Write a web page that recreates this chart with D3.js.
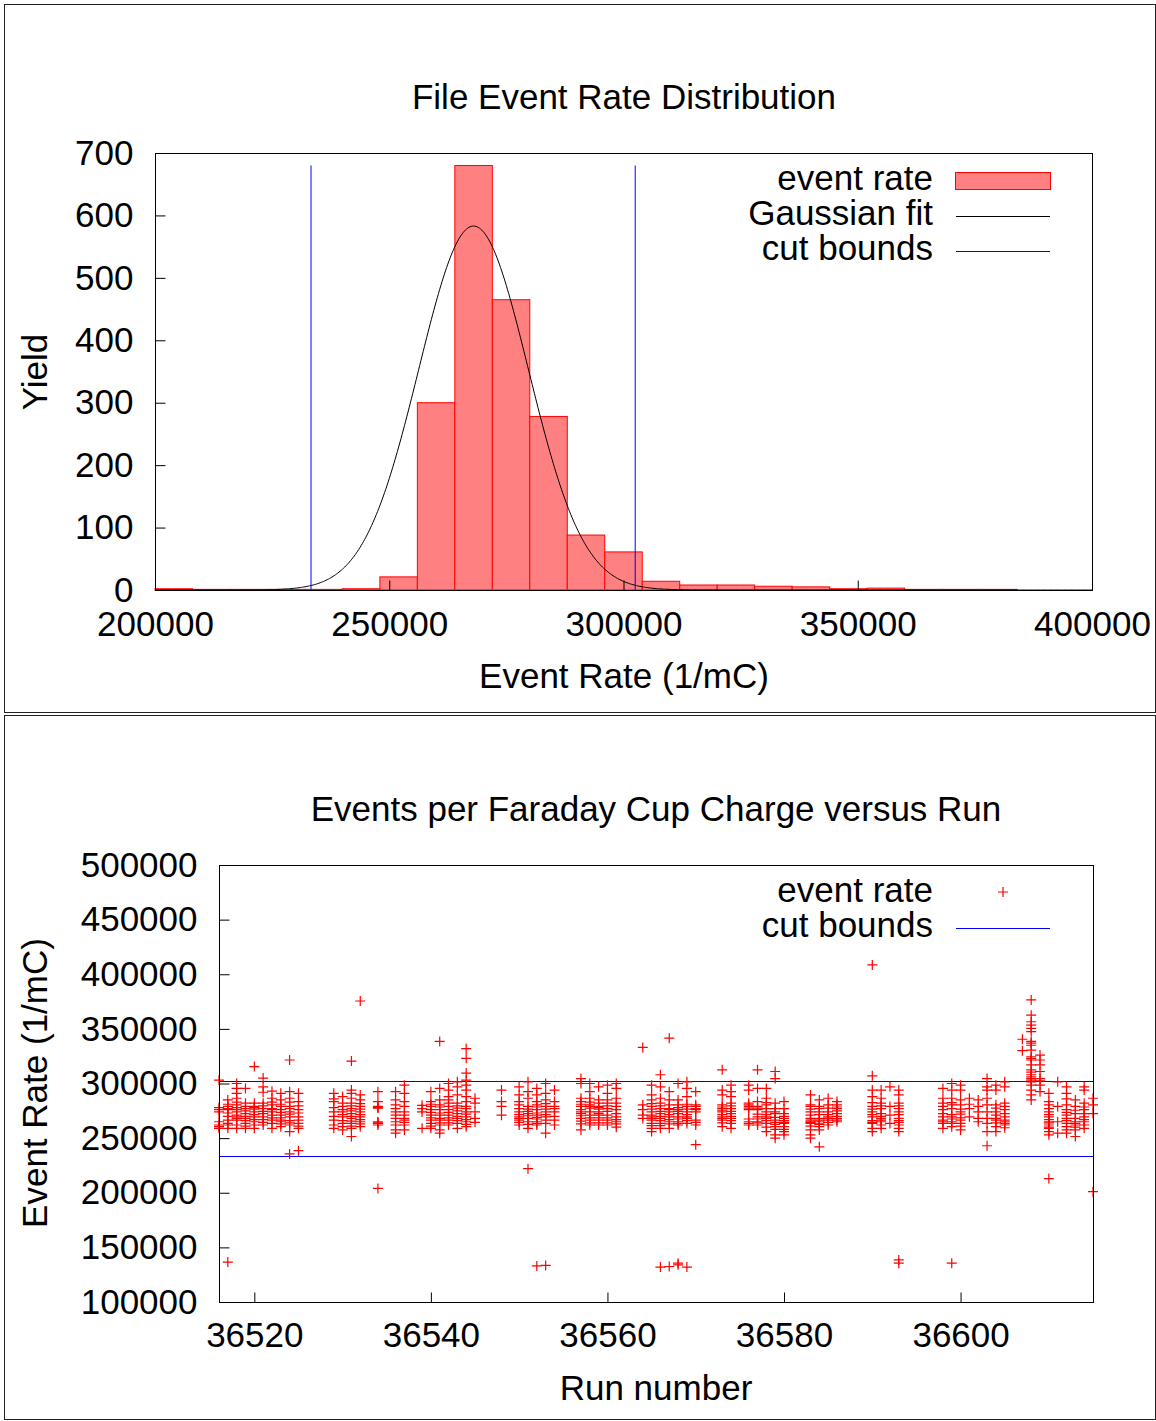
<!DOCTYPE html>
<html>
<head>
<meta charset="utf-8">
<script src="https://cdn.jsdelivr.net/npm/d3@7"></script>
<style>
  body { margin: 0; background: #fff; }
  svg text { font-family: "Liberation Sans", Arial, Helvetica, sans-serif; font-size: 35px; fill: #000; }
</style>
</head>
<body>
<svg id="chart" width="1156" height="1421"></svg>
<script>
// ---- Histogram of per-file event rates (1/mC), 8000-wide bins ----
const binStarts = [200000, 208000, 216000, 224000, 232000, 240000, 248000, 256000, 264000, 272000,
                   280000, 288000, 296000, 304000, 312000, 320000, 328000, 336000, 344000, 352000,
                   360000, 368000, 376000];
const binWidth = 8000;
const binCounts = [2, 1, 1, 1, 1, 2, 21, 300, 680, 465,
                   278, 88, 61, 14, 8, 8, 6, 5, 2, 3,
                   1, 1, 1];

// Gaussian fit parameters
const fitAmplitude = 583;
const fitMean = 268000;
const fitSigma = 11700;

// Accepted event-rate window
const cutBounds = [233300, 302500];

const histXTicks = [200000, 250000, 300000, 350000, 400000];
const histYTicks = [0, 100, 200, 300, 400, 500, 600, 700];

// ---- Event rate of each file, grouped by run ----
const runNumbers = [
  36516, 36517, 36518, 36519, 36520, 36521, 36522, 36523, 36524, 36525,
  36529, 36530, 36531, 36532, 36534, 36536, 36537, 36539, 36540, 36541,
  36542, 36543, 36544, 36545, 36548, 36550, 36551, 36552, 36553, 36554,
  36557, 36558, 36559, 36560, 36561, 36564, 36565, 36566, 36567, 36568,
  36569, 36570, 36573, 36574, 36576, 36577, 36578, 36579, 36580, 36583,
  36584, 36585, 36586, 36590, 36591, 36592, 36593, 36598, 36599, 36600,
  36601, 36602, 36603, 36604, 36605, 36607, 36608, 36609, 36610, 36611,
  36612, 36613, 36614, 36615
];
const runRates = [
  [303000, 278000, 276000, 274000, 265000, 262000, 259000, 260500],
  [285000, 281000, 279000, 277000, 276000, 273000, 270000, 266500, 263500, 262000, 259000, 136500],
  [300000, 295500, 291000, 286500, 283000, 280500, 278000, 276000, 274000, 271000, 269500, 268000, 266500, 262000, 259000],
  [295500, 282000, 279000, 277000, 275000, 272500, 270000, 268000, 266000, 263500, 261000, 259000],
  [315500, 282000, 279000, 278000, 276500, 274000, 271500, 269500, 267000, 265000, 262000, 259000],
  [305000, 297000, 292000, 282000, 279500, 277000, 274500, 272500, 269500, 267000, 264500, 262000],
  [293000, 286500, 283000, 280500, 277000, 276000, 274000, 271000, 268500, 266500, 263500, 259000],
  [291000, 285000, 281000, 279000, 276000, 273500, 271000, 268500, 266500, 265000, 263000, 260500],
  [321500, 292500, 286500, 283000, 279000, 277000, 274000, 272000, 269500, 266000, 264000, 262000, 256000, 235500],
  [291000, 283500, 279500, 276000, 273000, 269500, 266500, 263500, 261000, 259000, 238500],
  [291000, 286000, 283500, 278000, 274000, 270000, 266500, 262000, 259000],
  [288000, 282000, 279000, 276000, 274000, 271500, 269500, 266000, 263500, 260500, 257500],
  [320500, 294000, 291000, 286500, 282000, 279500, 277000, 275000, 272500, 270000, 268000, 265500, 263500, 261000, 259000, 251500],
  [375500, 289500, 285000, 281500, 279000, 276500, 274000, 271500, 269500, 267000, 265000, 263000, 260500],
  [292500, 283500, 279000, 278000, 277500, 265000, 264000, 263500, 262000, 204000],
  [292500, 285000, 280500, 277000, 274000, 271000, 268000, 265000, 262000, 257500, 254500],
  [298500, 291000, 283500, 279000, 274000, 271000, 268000, 266500, 264500, 262000, 257500],
  [280000, 277000, 274000, 259000],
  [292500, 283500, 281000, 279000, 276000, 273500, 271000, 268500, 266500, 263500, 261000, 259000],
  [338500, 295500, 285000, 280500, 278500, 276000, 273000, 271000, 268000, 266500, 264000, 262000, 257500, 254500],
  [300000, 294000, 288000, 285000, 282000, 279000, 276000, 273500, 271000, 268500, 266500, 264000, 262000],
  [301500, 297000, 289500, 282000, 279500, 277500, 275000, 272500, 270000, 268000, 266000, 263500, 259000],
  [332000, 323000, 309500, 303000, 298500, 294000, 288000, 283500, 279000, 277000, 274000, 272000, 269500, 267000, 265000, 262500, 260500],
  [286500, 282000, 274000, 268000, 264500],
  [294000, 283500, 279000, 271000],
  [297000, 289500, 283500, 280500, 277000, 274000, 271500, 269500, 268000, 266500, 264500, 262000],
  [301500, 292500, 286500, 279000, 276500, 274500, 272500, 270500, 268000, 265000, 262500, 259000, 222000],
  [295500, 289500, 283500, 280500, 278500, 276000, 273000, 271000, 269000, 267500, 265000, 263500, 262000, 133000],
  [300000, 291000, 285000, 281500, 279000, 276500, 274000, 271500, 269500, 266500, 263500, 254500, 133500],
  [294000, 283500, 279000, 277000, 274000, 270000, 266500, 262000],
  [304500, 300000, 286500, 283500, 281000, 279000, 276000, 274000, 272500, 270500, 268000, 265500, 263000, 257500],
  [300000, 292500, 286500, 283000, 280500, 279000, 277500, 274000, 271000, 268500, 266500, 264000, 262000],
  [297000, 285000, 282000, 279000, 278000, 276500, 274000, 272500, 271000, 268500, 266500, 264000, 262000],
  [298500, 291000, 285000, 282000, 279500, 277000, 274500, 271000, 268500, 266500, 264000, 262000],
  [300000, 295500, 286500, 282000, 279000, 276000, 272500, 269500, 267000, 265000, 263000, 260000],
  [333000, 280500, 276000, 271000, 268000],
  [298500, 289500, 285000, 281500, 279000, 276500, 274000, 271000, 269500, 268000, 266500, 263500, 261500, 259000, 256000],
  [308000, 297000, 286500, 282000, 279500, 277000, 274500, 272500, 270000, 268000, 266000, 263500, 261500, 259000, 132000],
  [341500, 292500, 285000, 280500, 277000, 276000, 274000, 271500, 269500, 267000, 265000, 263000, 259000, 132500],
  [300000, 285000, 280500, 278000, 276000, 274500, 272500, 269500, 267500, 265000, 263500, 262000, 135500, 134000],
  [301500, 295500, 288000, 281000, 279000, 276500, 274000, 271500, 269500, 268000, 266000, 263500, 132000],
  [292500, 280500, 279000, 277000, 276000, 274000, 266500, 264500, 262000, 244000],
  [312500, 294000, 289500, 280500, 278500, 277000, 275500, 274000, 271500, 269500, 268000, 266500, 264000, 260500],
  [298500, 292500, 288000, 282000, 279500, 277000, 274500, 272500, 270000, 268000, 266000, 263500, 259000],
  [298500, 294000, 282000, 280500, 279000, 277500, 276000, 267500, 265000, 263500, 262000],
  [312500, 295500, 283500, 279000, 277500, 276000, 272000, 269500, 267500, 265000, 264000, 262000],
  [295500, 286500, 282500, 280500, 277000, 274000, 271500, 269500, 268000, 266000, 263500, 260000, 256000],
  [311000, 304500, 282000, 277000, 274000, 272500, 269000, 266500, 264500, 262500, 260500, 258000, 253000, 250000],
  [283500, 277000, 272500, 270000, 268000, 266000, 264500, 263500, 260500, 258000, 256000, 253000],
  [289500, 280500, 279000, 276500, 274000, 271000, 268000, 266500, 265000, 264500, 263500, 261000, 257500, 253000, 250000],
  [285000, 279000, 277000, 274000, 271500, 268000, 266500, 265000, 263000, 262500, 260500, 257500, 242000],
  [286500, 280500, 277500, 274000, 271500, 269500, 268000, 266500, 264500, 262000],
  [283500, 280500, 278500, 277000, 275000, 272500, 270000, 268000, 266500, 265000],
  [408500, 307000, 294000, 288000, 282500, 279000, 276500, 274000, 271500, 269500, 266000, 264500, 263500, 259000, 256000],
  [294000, 286500, 282000, 279500, 277000, 272500, 270000, 268000, 266500, 265000, 262000, 259000],
  [297000, 279000, 271000, 263500],
  [294000, 289500, 282000, 279500, 277000, 274000, 271500, 268000, 266000, 264500, 262000, 259000, 256000, 138500, 135500],
  [295500, 286500, 282000, 279000, 276000, 272500, 269500, 266500, 265000, 263500, 259000],
  [300000, 294000, 286500, 282500, 280500, 277000, 271500, 269500, 267500, 265000, 263500, 260500, 135500],
  [298500, 294000, 285000, 280500, 276500, 274000, 272000, 268500, 266500, 263500, 261000, 257500],
  [286500, 281000, 277000, 269500],
  [285000, 279000, 274000, 268000, 265000],
  [304500, 297000, 294000, 286500, 280500, 274000, 268000, 263500, 256000, 243000],
  [298500, 294000, 280500, 277500, 274000, 271000, 268000, 266500, 264000, 260500, 256000],
  [301500, 297000, 282000, 279000, 276000, 272500, 269500, 266500, 265000, 263500, 262000, 259500],
  [340500, 330000],
  [376500, 362500, 356500, 353500, 350500, 347500, 338500, 337000, 335000, 330500, 324500, 323000, 321500,
   317000, 312500, 310500, 308000, 306000, 304500, 303000, 301500, 298500, 294000, 289500, 285000],
  [326000, 321500, 317000, 311000, 304500, 302500, 298500, 292500],
  [291000, 283500, 280500, 277000, 274000, 271500, 269500, 267000, 265000, 264000, 262000, 260000, 259000, 256000, 253000, 213000],
  [301500, 279000, 265000, 254500],
  [297000, 291000, 286000, 280500, 276000, 273500, 271000, 268000, 266000, 263500, 260500, 257500, 254500],
  [285000, 279000, 275500, 272500, 268000, 265000, 263500, 262000, 260000, 257500, 251500],
  [297000, 294000, 282000, 278500, 276000, 272500, 269500, 267000, 265000, 262000, 259000],
  [286500, 280500, 272500, 201000]
];

const runXTicks = [36520, 36540, 36560, 36580, 36600];
const rateYTicks = [100000, 150000, 200000, 250000, 300000, 350000, 400000, 450000, 500000];

const svg = d3.select("#chart");

// Panel outlines
svg.append("rect").attr("x", 4.5).attr("y", 4.5).attr("width", 1151).attr("height", 708)
  .attr("fill", "none").attr("stroke", "#222").attr("stroke-width", 1);
svg.append("rect").attr("x", 4.5).attr("y", 715.5).attr("width", 1151).attr("height", 704)
  .attr("fill", "none").attr("stroke", "#222").attr("stroke-width", 1);

function styleAxis(g) {
  g.select(".domain").remove();
  g.selectAll(".tick line").attr("stroke", "#000").attr("stroke-width", 1);
  g.selectAll(".tick text").attr("fill", "#000");
  g.attr("font-size", null).attr("font-family", null);
}

// ================= Top panel: histogram =================
const hx = d3.scaleLinear().domain([200000, 400000]).range([155, 1092]);
const hy = d3.scaleLinear().domain([0, 700]).range([590, 153]);

const histPanel = svg.append("g");

histPanel.append("text").attr("x", 624).attr("y", 109).attr("text-anchor", "middle")
  .text("File Event Rate Distribution");

histPanel.append("g").selectAll("rect")
  .data(binStarts.map((b, i) => ({ b, c: binCounts[i] })))
  .join("rect")
  .attr("x", d => hx(d.b))
  .attr("y", d => hy(d.c))
  .attr("width", d => hx(d.b + binWidth) - hx(d.b))
  .attr("height", d => hy(0) - hy(d.c))
  .attr("fill", "#ff8080")
  .attr("stroke", "#ff0000")
  .attr("stroke-width", 1);

// Gaussian fit curve
const gauss = x => fitAmplitude * Math.exp(-0.5 * Math.pow((x - fitMean) / fitSigma, 2));
const curveXs = d3.range(200000, 400001, 250);
histPanel.append("path")
  .datum(curveXs)
  .attr("fill", "none").attr("stroke", "#000").attr("stroke-width", 1)
  .attr("d", d3.line().x(x => hx(x)).y(x => hy(gauss(x))));

// Cut bounds
const maxCount = d3.max(binCounts);
histPanel.append("g").selectAll("line").data(cutBounds).join("line")
  .attr("x1", d => hx(d)).attr("x2", d => hx(d))
  .attr("y1", hy(0)).attr("y2", hy(maxCount))
  .attr("stroke", "#0000ff").attr("stroke-width", 1);

// Frame and axes
histPanel.append("rect").attr("x", 155.5).attr("y", 153.5).attr("width", 937).attr("height", 437)
  .attr("fill", "none").attr("stroke", "#000").attr("stroke-width", 1);

histPanel.append("g").attr("transform", "translate(155.5,0)")
  .call(d3.axisLeft(hy).tickValues(histYTicks).tickFormat(d3.format("d"))
    .tickSizeInner(-10).tickSizeOuter(0).tickPadding(22))
  .call(styleAxis);

histPanel.append("g").attr("transform", "translate(0,590.5)")
  .call(d3.axisBottom(hx).tickValues(histXTicks).tickFormat(d3.format("d"))
    .tickSizeInner(-10).tickSizeOuter(0).tickPadding(21))
  .call(styleAxis);

histPanel.append("text").attr("x", 624).attr("y", 688).attr("text-anchor", "middle")
  .text("Event Rate (1/mC)");
histPanel.append("text").attr("transform", "translate(47,372) rotate(-90)").attr("text-anchor", "middle")
  .text("Yield");

// Legend
const lg1 = histPanel.append("g");
lg1.append("text").attr("x", 933).attr("y", 190).attr("text-anchor", "end").text("event rate");
lg1.append("rect").attr("x", 955.5).attr("y", 172.5).attr("width", 95).attr("height", 17)
  .attr("fill", "#ff8080").attr("stroke", "#ff0000");
lg1.append("text").attr("x", 933).attr("y", 225).attr("text-anchor", "end").text("Gaussian fit");
lg1.append("line").attr("x1", 956).attr("x2", 1050).attr("y1", 216.5).attr("y2", 216.5).attr("stroke", "#000");
lg1.append("text").attr("x", 933).attr("y", 260).attr("text-anchor", "end").text("cut bounds");
lg1.append("line").attr("x1", 956).attr("x2", 1050).attr("y1", 251.5).attr("y2", 251.5).attr("stroke", "#0000ff");

// ================= Bottom panel: rate versus run =================
const rx = d3.scaleLinear().domain([36516, 36615]).range([219, 1093]);
const ry = d3.scaleLinear().domain([100000, 500000]).range([1302, 865]);

const runPanel = svg.append("g");

runPanel.append("text").attr("x", 656).attr("y", 821).attr("text-anchor", "middle")
  .text("Events per Faraday Cup Charge versus Run");

// Cut bounds
runPanel.append("g").selectAll("line").data(cutBounds).join("line")
  .attr("x1", rx(36516)).attr("x2", rx(36615))
  .attr("y1", d => Math.round(ry(d)) + 0.5).attr("y2", d => Math.round(ry(d)) + 0.5)
  .attr("stroke", "#0000ff").attr("stroke-width", 1);

// Per-file points
const pts = [];
runNumbers.forEach((run, i) => runRates[i].forEach(v => pts.push({ run, v })));
const plus = "M-5,0H5M0,-5V5";
runPanel.append("g").selectAll("path").data(pts).join("path")
  .attr("transform", d => `translate(${rx(d.run)},${ry(d.v)})`)
  .attr("d", plus)
  .attr("fill", "none").attr("stroke", "#ff0000").attr("stroke-width", 1.2);

// Frame and axes
runPanel.append("rect").attr("x", 219.5).attr("y", 865.5).attr("width", 874).attr("height", 437)
  .attr("fill", "none").attr("stroke", "#000").attr("stroke-width", 1);

runPanel.append("g").attr("transform", "translate(219.5,0)")
  .call(d3.axisLeft(ry).tickValues(rateYTicks).tickFormat(d3.format("d"))
    .tickSizeInner(-10).tickSizeOuter(0).tickPadding(22))
  .call(styleAxis);

runPanel.append("g").attr("transform", "translate(0,1302.5)")
  .call(d3.axisBottom(rx).tickValues(runXTicks).tickFormat(d3.format("d"))
    .tickSizeInner(-10).tickSizeOuter(0).tickPadding(20))
  .call(styleAxis);

runPanel.append("text").attr("x", 656).attr("y", 1400).attr("text-anchor", "middle").text("Run number");
runPanel.append("text").attr("transform", "translate(47,1083) rotate(-90)").attr("text-anchor", "middle")
  .text("Event Rate (1/mC)");

// Legend
const lg2 = runPanel.append("g");
lg2.append("text").attr("x", 933).attr("y", 902).attr("text-anchor", "end").text("event rate");
lg2.append("path").attr("transform", "translate(1003,892)").attr("d", plus)
  .attr("fill", "none").attr("stroke", "#ff0000").attr("stroke-width", 1.2);
lg2.append("text").attr("x", 933).attr("y", 937).attr("text-anchor", "end").text("cut bounds");
lg2.append("line").attr("x1", 956).attr("x2", 1050).attr("y1", 928.5).attr("y2", 928.5).attr("stroke", "#0000ff");
</script>
</body>
</html>
